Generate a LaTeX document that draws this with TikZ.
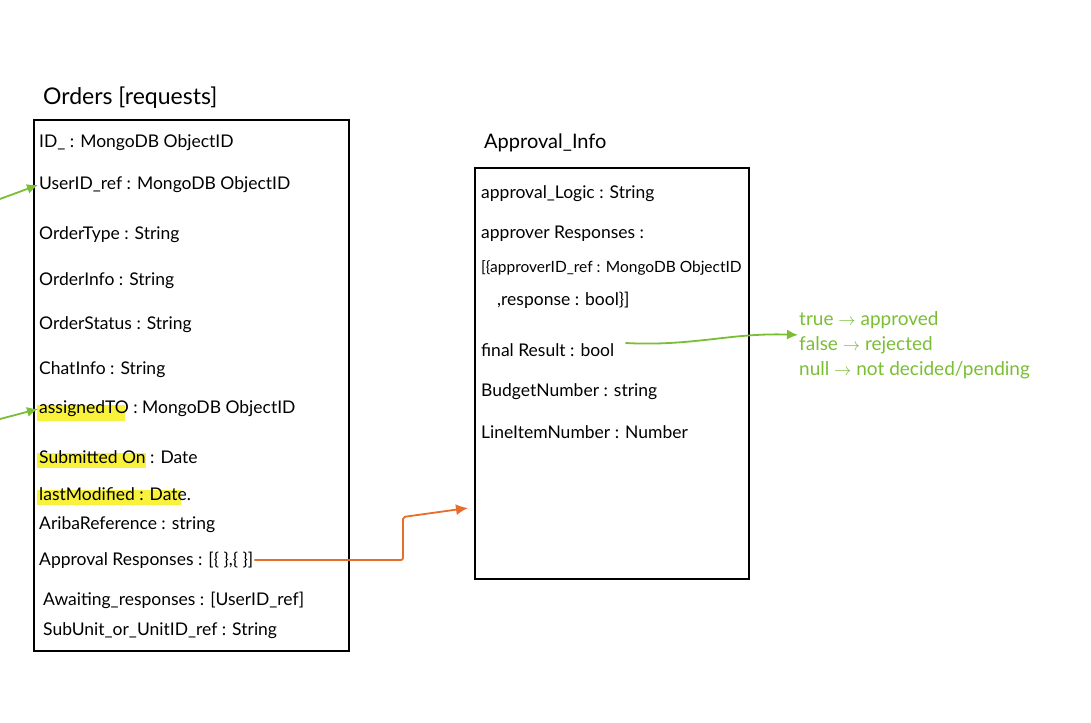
\documentclass[tikz,border=0pt]{standalone}
\usepackage{fontspec}
\setmainfont{Lato}
\usetikzlibrary{arrows.meta,positioning,calc,backgrounds}
\definecolor{leaf}{RGB}{122,190,52}
\definecolor{rust}{RGB}{232,108,42}
\definecolor{marker}{RGB}{248,242,60}
\tikzset{box/.style={draw=black,line width=1.6pt,inner sep=0pt},
 f/.style={anchor=west,inner sep=1pt,font=\fontsize{17.5}{20}\selectfont},
 ttl/.style={anchor=west,inner sep=1pt,font=\fontsize{23}{26}\selectfont},
 gtxt/.style={anchor=north west,align=left,text=leaf,inner sep=1pt,font=\fontsize{19}{25}\selectfont},
 gflow/.style={-{Latex[length=11pt,width=10pt]},draw=leaf,line width=1.8pt},
 oflow/.style={-{Latex[length=12pt,width=11pt]},draw=rust,line width=1.8pt,rounded corners=2pt},
 hl/.style={fill=marker}}
\begin{document}
\begin{tikzpicture}[x=1pt,y=-1pt]
\useasboundingbox (0,0) rectangle (1091,722);
\node[ttl](otitle) at(42,98){Orders [requests]};
\node[box,minimum width=315pt,minimum height=531pt,anchor=north west](orders) at(33,119){};
\node[f](id) at(38,143){ID\_ : MongoDB ObjectID};
\node[f](uref) at(38,185){UserID\_ref : MongoDB ObjectID};
\node[f](otype) at(38,235){OrderType : String};
\node[f](oinfo) at(38,281){OrderInfo : String};
\node[f](ostat) at(38,325){OrderStatus : String};
\node[f](chat) at(38,370){ChatInfo : String};
\node[f](asg) at(38,409){assignedTO : MongoDB ObjectID};
\node[f](subm) at(38,457){Submitted On : Date};
\node[f](lmod) at(38,494){lastModified : Date.};
\node[f](ariba) at(38,525){AribaReference : string};
\node[f](appr) at(38,560){Approval Responses : [\{ \},\{ \}]};
\node[f](await) at(42,600){Awaiting\_responses : [UserID\_ref]};
\node[f](sub) at(42,631){SubUnit\_or\_UnitID\_ref : String};
\begin{scope}[on background layer]
\fill[hl](37,405) rectangle (125,421);
\fill[hl](37,453) rectangle (146,468);
\fill[hl](37,490) rectangle (181,505);
\end{scope}
\coordinate(inA) at(0,199);
\coordinate(inB) at(0,419);
\draw[gflow](inA)--(uref.west);
\draw[gflow](inB)--(asg.west);
\node[ttl,font=\fontsize{20}{23}\selectfont](ititle) at(483,143){Approval\_Info};
\node[box,minimum width=274pt,minimum height=411pt,anchor=north west](infobox) at(474,167){};
\node[f](logic) at(480,194){approval\_Logic : String};
\node[f](aresp) at(480,234){approver Responses :};
\node[f,font=\fontsize{15.5}{18}\selectfont](aref) at(480,268){[\{approverID\_ref : MongoDB ObjectID};
\node[f](resp) at(496,300){,response : bool\}]};
\node[f](fres) at(480,350){final Result : bool};
\node[f](budget) at(480,392){BudgetNumber : string};
\node[f](line) at(480,432){LineItemNumber : Number};
\node[gtxt](vals) at(798,310){true $\to$ approved\\false $\to$ rejected\\null $\to$ not decided/pending};
\coordinate(fstart) at($(fres.east)+(10,-7)$);
\coordinate(bend) at(403,517);
\draw[gflow](fstart) to[out=-3,in=178] ([yshift=10pt]vals.west);
\draw[oflow](appr.east)-|(bend)--($(infobox.north west)+(-6,341)$);
\end{tikzpicture}
\end{document}
